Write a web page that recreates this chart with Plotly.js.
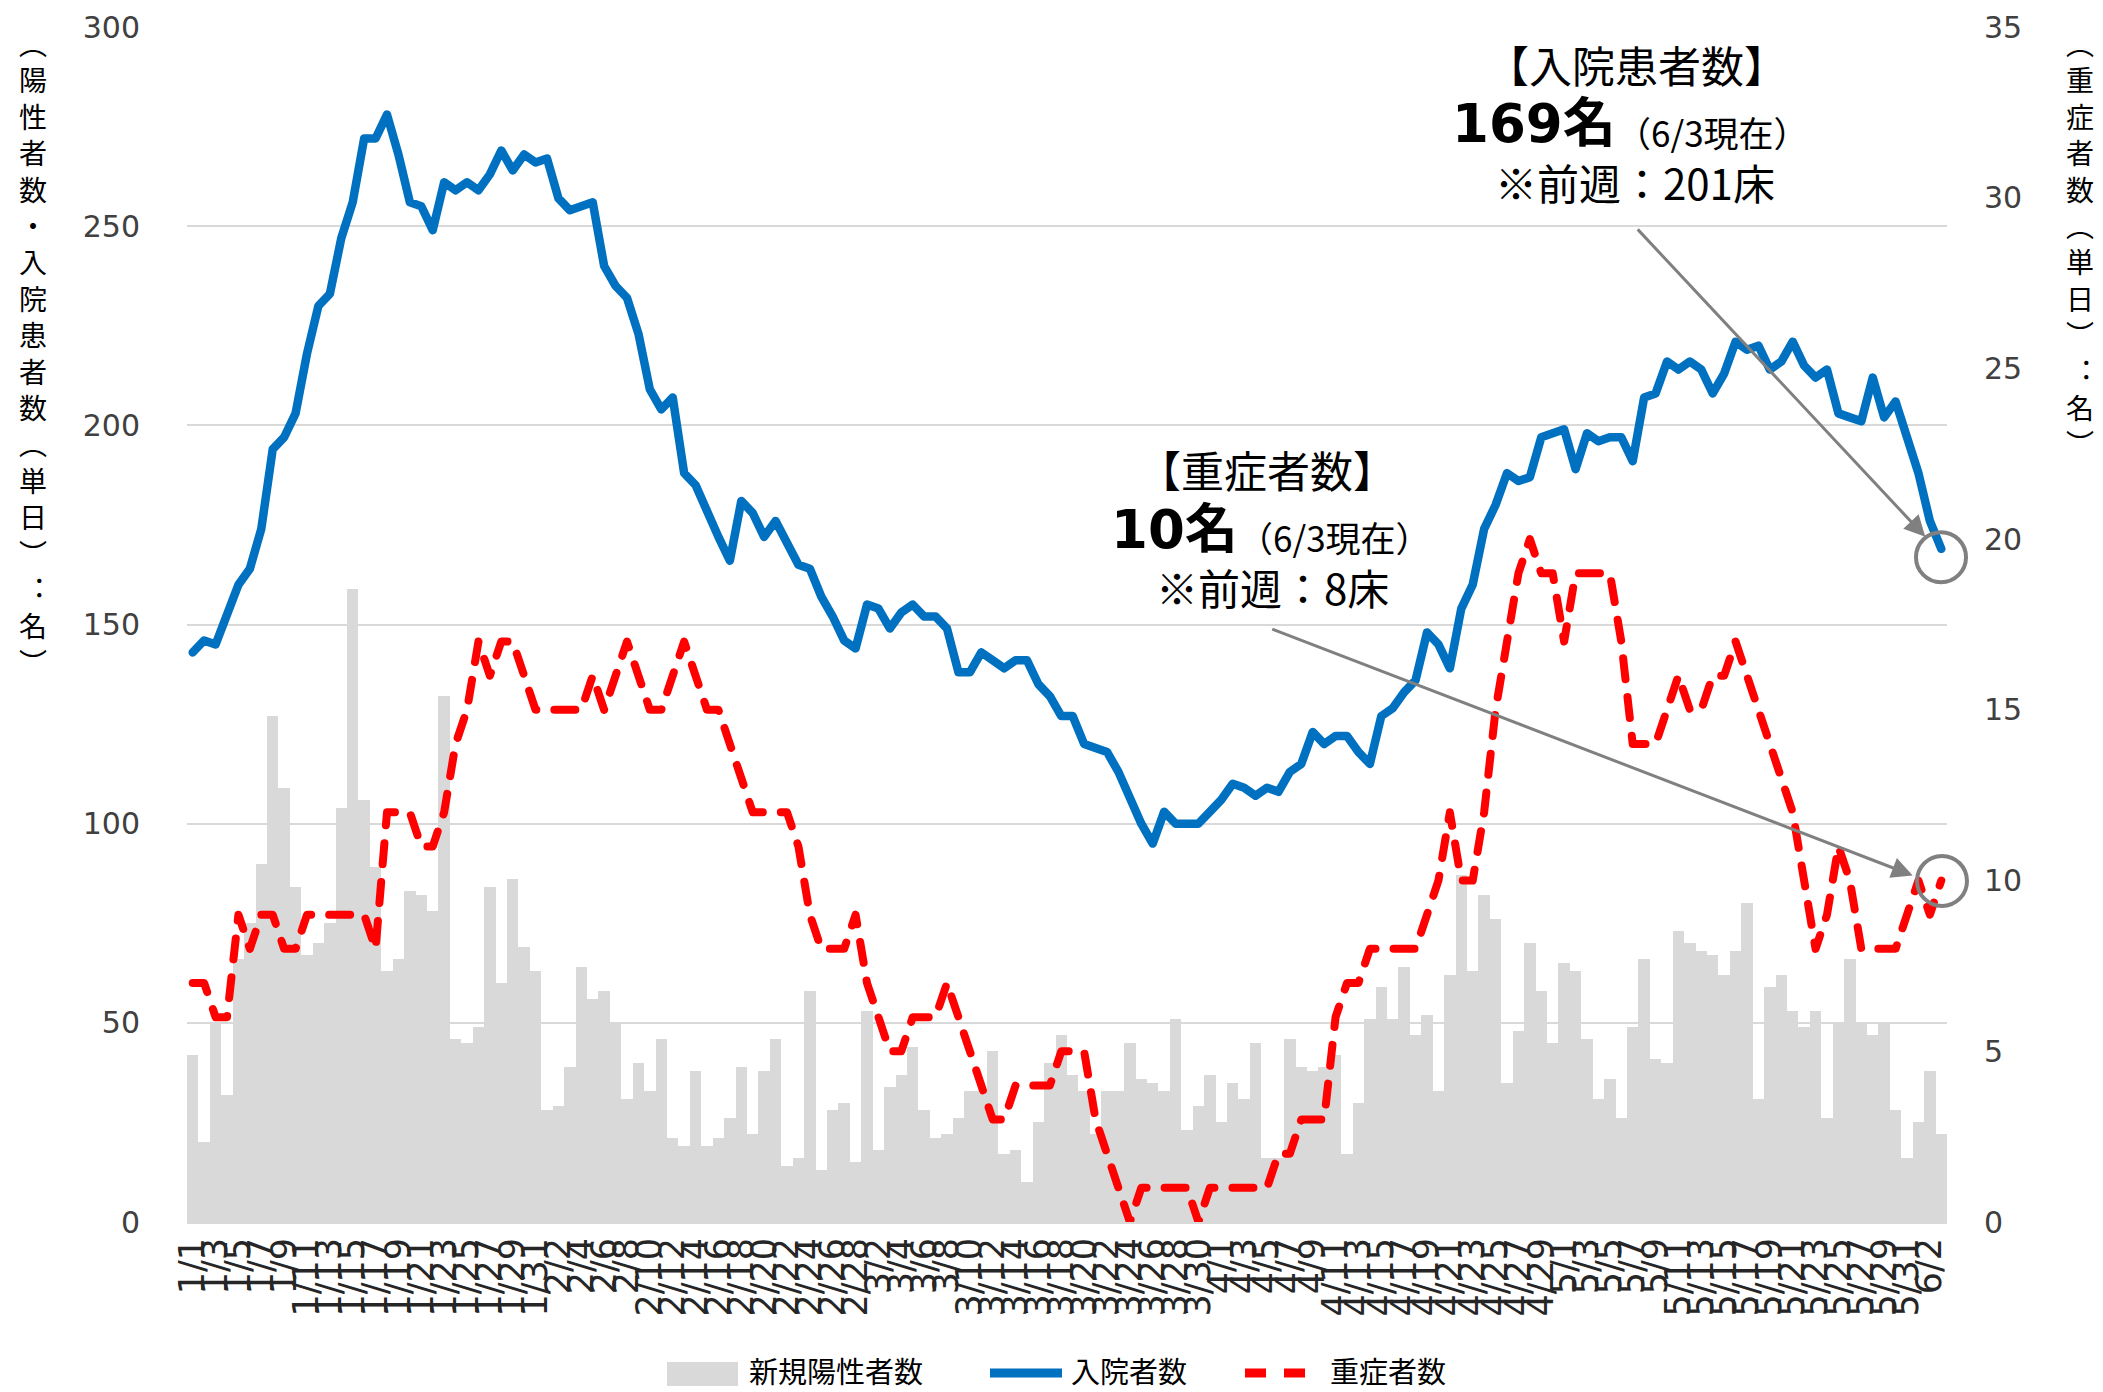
<!DOCTYPE html>
<html>
<head>
<meta charset="utf-8">
<script src="https://cdn.plot.ly/plotly-3.0.1.min.js"></script>
<style>
html,body{margin:0;padding:0;background:#fff;}
#chart{width:2103px;height:1392px;}
.js-line{stroke-linecap:round;stroke-linejoin:round;}
</style>
</head>
<body>
<div id="chart"></div>
<script>
// ---- Data ----
const dates = [
"1/1","1/2","1/3","1/4","1/5","1/6","1/7","1/8","1/9","1/10","1/11","1/12","1/13","1/14","1/15","1/16",
"1/17","1/18","1/19","1/20","1/21","1/22","1/23","1/24","1/25","1/26","1/27","1/28","1/29","1/30","1/31",
"2/1","2/2","2/3","2/4","2/5","2/6","2/7","2/8","2/9","2/10","2/11","2/12","2/13","2/14","2/15","2/16",
"2/17","2/18","2/19","2/20","2/21","2/22","2/23","2/24","2/25","2/26","2/27","2/28",
"3/1","3/2","3/3","3/4","3/5","3/6","3/7","3/8","3/9","3/10","3/11","3/12","3/13","3/14","3/15","3/16",
"3/17","3/18","3/19","3/20","3/21","3/22","3/23","3/24","3/25","3/26","3/27","3/28","3/29","3/30","3/31",
"4/1","4/2","4/3","4/4","4/5","4/6","4/7","4/8","4/9","4/10","4/11","4/12","4/13","4/14","4/15","4/16",
"4/17","4/18","4/19","4/20","4/21","4/22","4/23","4/24","4/25","4/26","4/27","4/28","4/29","4/30",
"5/1","5/2","5/3","5/4","5/5","5/6","5/7","5/8","5/9","5/10","5/11","5/12","5/13","5/14","5/15","5/16",
"5/17","5/18","5/19","5/20","5/21","5/22","5/23","5/24","5/25","5/26","5/27","5/28","5/29","5/30","5/31",
"6/1","6/2","6/3"];

// 新規陽性者数 (left axis)
const newPositives = [
42,20,50,32,66,75,90,127,109,84,67,70,75,104,159,106,89,63,66,83,82,78,132,46,45,49,84,60,86,69,63,
28,29,39,64,56,58,50,31,40,33,46,21,19,38,19,21,26,39,22,38,46,14,16,58,13,28,30,15,
53,18,34,37,44,28,21,22,26,33,33,43,17,18,10,25,40,47,37,33,22,33,33,45,36,35,33,51,23,29,37,
25,35,31,45,16,16,46,39,38,39,42,17,30,51,59,51,64,47,52,33,62,87,63,82,76,35,48,70,58,45,
65,63,46,31,36,26,49,66,41,40,73,70,68,67,62,68,80,31,59,62,53,49,53,26,50,66,50,47,50,28,16,
25,38,22];

// 入院者数 (left axis)
const inpatients = [
143,146,145,152,160,164,174,194,197,203,218,230,233,247,256,272,272,278,268,256,255,249,261,259,261,259,263,269,264,268,266,
267,257,254,255,256,240,235,232,223,209,204,207,188,185,178,172,166,181,178,172,176,171,165,164,157,152,146,144,
155,154,149,153,155,152,152,149,138,138,143,141,139,141,141,135,132,127,127,120,119,118,113,106,100,95,103,100,100,100,103,
106,110,109,107,109,108,113,115,123,120,122,122,118,115,127,129,133,136,148,145,139,154,160,174,180,188,186,187,197,198,
199,189,198,196,197,197,191,207,208,216,214,216,214,208,213,221,219,220,214,216,221,215,212,214,203,202,201,212,202,206,197,
188,176,169];

// 重症者数 (right axis)
const severe = [
7,7,6,6,9,8,9,9,8,8,9,9,9,9,9,9,8,12,12,12,11,11,12,14,15,17,16,17,17,16,15,
15,15,15,15,16,15,16,17,16,15,15,16,17,16,15,15,14,13,12,12,12,12,11,9,8,8,8,9,
7,6,5,5,6,6,6,7,6,5,4,3,3,4,4,4,4,5,5,5,3,2,1,0,1,1,1,1,1,0,1,
1,1,1,1,1,2,2,3,3,3,6,7,7,8,8,8,8,8,9,10,12,10,10,12,15,17,19,20,19,19,
17,19,19,19,19,17,14,14,14,15,16,15,15,16,16,17,16,15,14,13,12,10,8,9,11,10,8,8,8,8,9,
10,9,10];

const seriesNames = ["新規陽性者数", "入院者数", "重症者数"];
const leftTicks = [0, 50, 100, 150, 200, 250, 300];
const rightTicks = [0, 5, 10, 15, 20, 25, 30, 35];
const leftTitle = "︵陽性者数・入院患者数︵単日︶︓名︶";
const rightTitle = "︵重症者数︵単日︶︓名︶";
const callout1 = {head: "【入院患者数】", value: "169名", asOf: "（6/3現在）", prev: "※前週：201床"};
const callout2 = {head: "【重症者数】", value: "10名", asOf: "（6/3現在）", prev: "※前週：8床"};

// ---- Geometry helpers (pixel -> paper) ----
const W = 2103, H = 1392;
const M = {l: 187, r: 156, t: 27, b: 170};
const PW = W - M.l - M.r, PH = H - M.t - M.b;
const px = x => (x - M.l) / PW;
const py = y => (H - M.b - y) / PH;

const CJK = "'Noto Sans CJK JP', 'Noto Sans', sans-serif";
const NUM = "'DejaVu Sans', 'Noto Sans CJK JP', sans-serif";
const GRID = "#d9d9d9";

const tickVals = dates.filter((d, i) => i % 2 === 0);

const traces = [
  {type: "bar", name: seriesNames[0], x: dates, y: newPositives,
   marker: {color: "#d9d9d9", line: {width: 0}}, yaxis: "y", xaxis: "x", hoverinfo: "skip"},
  {type: "scatter", mode: "lines", name: seriesNames[1], x: dates, y: inpatients,
   line: {color: "#0070C0", width: 8.5}, yaxis: "y", xaxis: "x", hoverinfo: "skip"},
  {type: "scatter", mode: "lines", name: seriesNames[2], x: dates, y: severe,
   line: {color: "#FF0000", width: 8, dash: "21px,18px"}, yaxis: "y2", xaxis: "x", hoverinfo: "skip"}
];

const annotations = [];
function addText(text, x, y, size, opts) {
  annotations.push(Object.assign({
    text: text, xref: "paper", yref: "paper", x: px(x), y: py(y),
    xanchor: "center", yanchor: "middle", showarrow: false,
    font: {family: CJK, size: size, color: "#000"}
  }, opts || {}));
}
// vertical axis titles: one glyph per line
addText(Array.from(leftTitle).join("<br>"), 33, 22, 28, {yanchor: "top", borderpad: 0});
addText(Array.from(rightTitle).join("<br>"), 2080, 22, 28, {yanchor: "top", borderpad: 0});

// callouts
addText(callout1.head, 1636, 64, 43);
addText("<b>" + callout1.value + "</b>", 1534, 124, 53, {font: {family: NUM, size: 53, color: "#000"}});
addText(callout1.asOf, 1712, 131, 35);
addText(callout1.prev, 1635, 182, 42);
addText(callout2.head, 1267, 469, 43);
addText("<b>" + callout2.value + "</b>", 1174, 529, 53, {font: {family: NUM, size: 53, color: "#000"}});
addText(callout2.asOf, 1334, 536, 35);
addText(callout2.prev, 1272, 586, 42);

// arrows
annotations.push({xref: "x", yref: "y", x: 151.6, y: 172, ax: -289, ay: -309,
  showarrow: true, arrowhead: 2, arrowsize: 1.4, arrowwidth: 3, arrowcolor: "#808080", text: ""});
annotations.push({xref: "x", yref: "y2", x: 150.5, y: 10.15, ax: -642, ay: -247,
  showarrow: true, arrowhead: 2, arrowsize: 1.4, arrowwidth: 3, arrowcolor: "#808080", text: ""});

// custom legend
addText(seriesNames[0], 747, 1370, 29, {xanchor: "left"});
addText(seriesNames[1], 1069, 1370, 29, {xanchor: "left"});
addText(seriesNames[2], 1328, 1370, 29, {xanchor: "left"});

const shapes = [
  {type: "circle", xref: "paper", yref: "y", xsizemode: "pixel", ysizemode: "pixel",
   xanchor: px(1941), yanchor: 166.9, x0: -25, x1: 25, y0: -25, y1: 25,
   line: {color: "#808080", width: 4}},
  {type: "circle", xref: "paper", yref: "y2", xsizemode: "pixel", ysizemode: "pixel",
   xanchor: px(1942), yanchor: 9.99, x0: -25, x1: 25, y0: -25, y1: 25,
   line: {color: "#808080", width: 4}},
  // legend swatches
  {type: "rect", xref: "paper", yref: "paper", x0: px(667), x1: px(738), y0: py(1386), y1: py(1362),
   fillcolor: "#d9d9d9", line: {width: 0}},
  {type: "line", xref: "paper", yref: "paper", x0: px(990), x1: px(1062), y0: py(1373), y1: py(1373),
   line: {color: "#0070C0", width: 9}},
  {type: "line", xref: "paper", yref: "paper", x0: px(1245), x1: px(1318), y0: py(1373), y1: py(1373),
   line: {color: "#FF0000", width: 9, dash: "21px,18px"}}
];

const layout = {
  width: W, height: H, margin: M, paper_bgcolor: "#fff", plot_bgcolor: "#fff",
  showlegend: false, bargap: 0,
  font: {family: NUM, color: "#404040"},
  xaxis: {type: "category", range: [-0.5, dates.length - 0.5], tickmode: "array", tickvals: tickVals, ticktext: tickVals,
    tickangle: -90, tickfont: {family: NUM, size: 35, color: "#262626"}, ticks: "",
    showline: true, linecolor: GRID, linewidth: 2, showgrid: false, zeroline: false, automargin: false, fixedrange: true},
  xaxis2: {type: "linear", overlaying: "x", anchor: "y", side: "bottom", range: [-0.5, dates.length - 0.5],
    tick0: -0.5, dtick: 2, ticks: "outside", ticklen: 10, tickwidth: 2, tickcolor: GRID,
    showticklabels: false, showgrid: false, zeroline: false, showline: false},
  yaxis: {range: [0, 300], tickmode: "array", tickvals: leftTicks, ticks: "", ticklabelstandoff: 46,
    tickfont: {family: NUM, size: 30, color: "#404040"}, showgrid: true, gridcolor: GRID, gridwidth: 2,
    zeroline: false, showline: false, automargin: false},
  yaxis2: {range: [0, 35], tickmode: "array", tickvals: rightTicks, overlaying: "y", side: "right", ticks: "",
    ticklabelstandoff: 36, tickfont: {family: NUM, size: 30, color: "#404040"}, showgrid: false,
    zeroline: false, showline: false, automargin: false},
  annotations: annotations,
  shapes: shapes
};

Plotly.newPlot("chart", traces, layout, {staticPlot: true, displayModeBar: false});
</script>
</body>
</html>
